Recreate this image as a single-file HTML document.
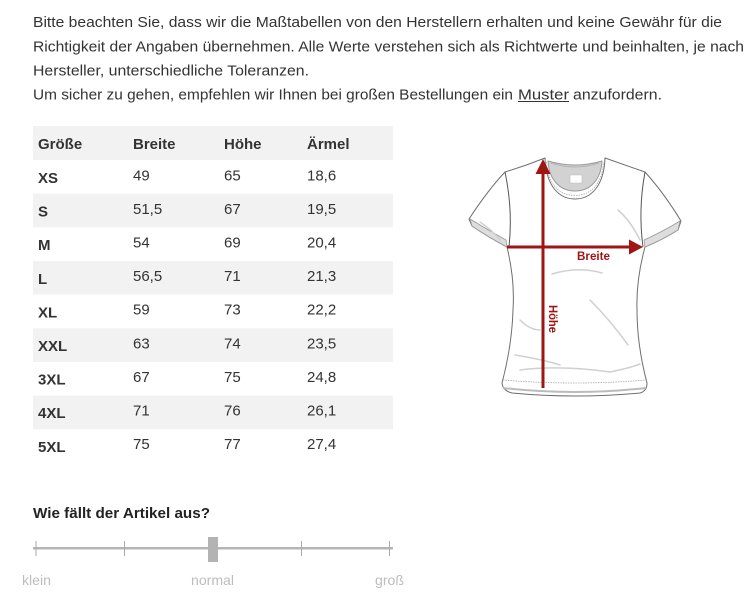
<!DOCTYPE html>
<html>
<head>
<meta charset="utf-8">
<style>
html,body{margin:0;padding:0;background:#fff;}
svg{display:block;}
</style>
</head>
<body>
<svg xmlns="http://www.w3.org/2000/svg" width="756" height="609" viewBox="0 0 756 609">
  <rect width="756" height="609" fill="#fff"/>
  <!-- Paragraph -->
  <g font-family="Liberation Sans, Arial, sans-serif" font-size="15" fill="#333">
    <text x="33" y="27" textLength="689" lengthAdjust="spacingAndGlyphs">Bitte beachten Sie, dass wir die Maßtabellen von den Herstellern erhalten und keine Gewähr für die</text>
    <text x="33" y="51.5" textLength="711" lengthAdjust="spacingAndGlyphs">Richtigkeit der Angaben übernehmen. Alle Werte verstehen sich als Richtwerte und beinhalten, je nach</text>
    <text x="33" y="75.5" textLength="276" lengthAdjust="spacingAndGlyphs">Hersteller, unterschiedliche Toleranzen.</text>
    <text x="33" y="99.5" textLength="480" lengthAdjust="spacingAndGlyphs">Um sicher zu gehen, empfehlen wir Ihnen bei großen Bestellungen ein</text>
    <text x="518" y="99.5" textLength="51" lengthAdjust="spacingAndGlyphs">Muster</text>
    <text x="573" y="99.5" textLength="89" lengthAdjust="spacingAndGlyphs">anzufordern.</text>
  </g>
  <rect x="518" y="101" width="51" height="1" fill="#333"/>

  <!-- Table backgrounds -->
  <g fill="#f2f2f2">
    <rect x="33" y="126" width="360" height="34"/>
    <rect x="33" y="193.7" width="360" height="33.6"/>
    <rect x="33" y="261" width="360" height="33.6"/>
    <rect x="33" y="328.3" width="360" height="33.6"/>
    <rect x="33" y="395.6" width="360" height="33.6"/>
  </g>

  <!-- Table header -->
  <g font-family="Liberation Sans, Arial, sans-serif" font-size="15" font-weight="bold" fill="#333">
    <text x="38" y="149">Größe</text>
    <text x="133" y="149">Breite</text>
    <text x="224" y="149">Höhe</text>
    <text x="307" y="149">Ärmel</text>
  </g>

  <!-- Size column -->
  <g font-family="Liberation Sans, Arial, sans-serif" font-size="15" font-weight="bold" fill="#333">
    <text x="38" y="183">XS</text>
    <text x="38" y="216.6">S</text>
    <text x="38" y="250.2">M</text>
    <text x="38" y="283.8">L</text>
    <text x="38" y="317.4">XL</text>
    <text x="38" y="351">XXL</text>
    <text x="38" y="384.6">3XL</text>
    <text x="38" y="418.2">4XL</text>
    <text x="38" y="451.8">5XL</text>
  </g>

  <!-- Numbers -->
  <g font-family="Liberation Sans, Arial, sans-serif" font-size="15" fill="#333">
    <text x="133" y="180.3">49</text><text x="224" y="180.3">65</text><text x="307" y="180.3">18,6</text>
    <text x="133" y="213.9">51,5</text><text x="224" y="213.9">67</text><text x="307" y="213.9">19,5</text>
    <text x="133" y="247.5">54</text><text x="224" y="247.5">69</text><text x="307" y="247.5">20,4</text>
    <text x="133" y="281.1">56,5</text><text x="224" y="281.1">71</text><text x="307" y="281.1">21,3</text>
    <text x="133" y="314.7">59</text><text x="224" y="314.7">73</text><text x="307" y="314.7">22,2</text>
    <text x="133" y="348.3">63</text><text x="224" y="348.3">74</text><text x="307" y="348.3">23,5</text>
    <text x="133" y="381.9">67</text><text x="224" y="381.9">75</text><text x="307" y="381.9">24,8</text>
    <text x="133" y="415.5">71</text><text x="224" y="415.5">76</text><text x="307" y="415.5">26,1</text>
    <text x="133" y="449.1">75</text><text x="224" y="449.1">77</text><text x="307" y="449.1">27,4</text>
  </g>

  <!-- T-shirt -->
  <g stroke="#6e6e6e" stroke-width="1" fill="#fff" stroke-linejoin="round">
    <!-- body outline -->
    <path d="M545,158 Q525,166 505,172 Q488,190 469,219 L472,226 Q488,237 507,247
             Q515,280 513,310 Q512,345 502,383 Q503,391 512,393 Q575,399 640,393 Q647,391 647,383
             Q637,345 637,310 Q636,280 645,247 Q662,240 678,230 L681,221 Q664,193 645,172
             Q625,165 605,158 C604,186 591,199 575,199 C559,199 546,186 545,158 Z"/>
    <!-- collar inner -->
    <path d="M548,161 Q575,169 602,161 C601,180 590,191 575,191 C560,191 549,180 548,161 Z" fill="#d2d2d2" stroke="#9a9a9a"/>
    <path d="M551,163 Q575,171 599,163" fill="none" stroke="#aaa" stroke-width="0.8"/>
    <rect x="570" y="175" width="12" height="8" fill="#fff" stroke="#bbb" stroke-width="0.6"/>
    <!-- collar band stitches -->
    <path d="M546.5,162 C548,185 560,195.5 575,195.5 C590,195.5 602,185 603.5,162" fill="none" stroke="#aaa" stroke-width="0.8" stroke-dasharray="1.5 1"/>
    <!-- armhole seams -->
    <path d="M505,172 Q513,210 509,247" fill="none" stroke="#555"/>
    <path d="M645,172 Q638,210 643,247" fill="none" stroke="#555"/>
    <!-- sleeve cuffs -->
    <path d="M470,219 Q488,230 506,240 L507,247 Q488,237 472,226 Z" fill="#ddd" stroke="#999" stroke-width="0.8"/>
    <path d="M680,221 Q662,232 644,240 L645,247 Q662,240 678,230 Z" fill="#ddd" stroke="#999" stroke-width="0.8"/>
    <!-- hem band -->
    <path d="M503,380 Q575,386 646,380" fill="none" stroke="#aaa" stroke-width="0.8" stroke-dasharray="1.5 1"/>
    <path d="M503,388 Q575,396 646,388" fill="none" stroke="#bbb" stroke-width="2"/>
  </g>
  <!-- folds -->
  <g fill="none" stroke="#d0d0d0" stroke-width="1.5" stroke-linecap="round">
    <path d="M552,274 Q578,266 602,273"/>
    <path d="M590,300 Q610,320 628,345"/>
    <path d="M515,355 Q545,360 560,365"/>
    <path d="M520,370 Q560,365 610,372 Q630,368 640,364"/>
    <path d="M618,210 Q630,220 640,240"/>
    <path d="M480,222 Q492,230 500,240"/>
    <path d="M520,320 Q530,330 540,330"/>
  </g>

  <!-- Red arrows -->
  <g fill="#a11414" stroke="none">
    <rect x="507" y="245.5" width="125" height="3"/>
    <polygon points="629,239.5 643,247 629,254.5"/>
    <rect x="541.5" y="171" width="3" height="217"/>
    <polygon points="535.5,174 543,159 550.5,174"/>
  </g>
  <text x="577" y="260" font-family="Liberation Sans, Arial, sans-serif" font-size="12" font-weight="bold" fill="#a11414" textLength="33" lengthAdjust="spacingAndGlyphs">Breite</text>
  <text transform="translate(549,305) rotate(90)" font-family="Liberation Sans, Arial, sans-serif" font-size="12" font-weight="bold" fill="#a11414" textLength="28" lengthAdjust="spacingAndGlyphs">Höhe</text>

  <!-- Fit question -->
  <text x="33" y="518" font-family="Liberation Sans, Arial, sans-serif" font-size="15" font-weight="bold" fill="#222" textLength="177" lengthAdjust="spacingAndGlyphs">Wie fällt der Artikel aus?</text>

  <!-- Slider -->
  <rect x="33" y="547" width="360" height="2.5" fill="#b5b5b5"/>
  <g fill="#aaa">
    <rect x="35.5" y="541" width="1" height="15"/>
    <rect x="124" y="541" width="1" height="15"/>
    <rect x="301" y="541" width="1" height="15"/>
    <rect x="389" y="541" width="1" height="15"/>
  </g>
  <rect x="208" y="537" width="10" height="25" fill="#b3b3b3"/>
  <g font-family="Liberation Sans, Arial, sans-serif" font-size="14" fill="#bdbdbd">
    <text x="22" y="585" textLength="29" lengthAdjust="spacingAndGlyphs">klein</text>
    <text x="191" y="585" textLength="43" lengthAdjust="spacingAndGlyphs">normal</text>
    <text x="375" y="585" textLength="29" lengthAdjust="spacingAndGlyphs">groß</text>
  </g>
</svg>
</body>
</html>
